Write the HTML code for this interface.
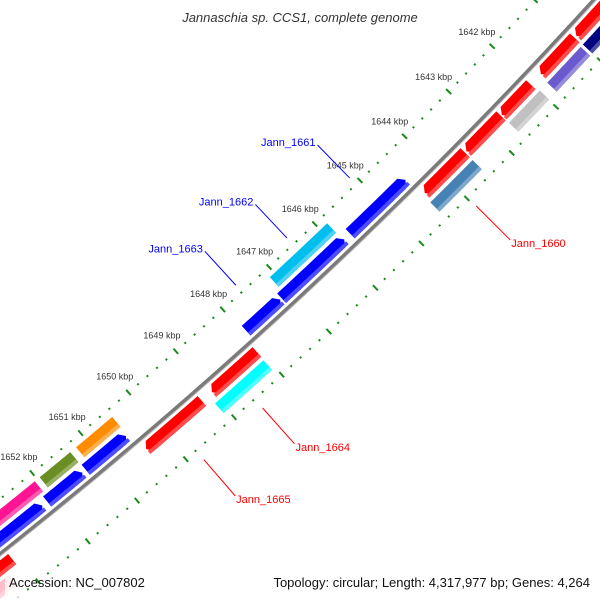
<!DOCTYPE html>
<html><head><meta charset="utf-8"><style>
html,body{margin:0;padding:0;background:#fff;width:600px;height:600px;overflow:hidden;}
svg{display:block;font-family:"Liberation Sans",sans-serif;overflow:hidden;}
</style></head><body>
<svg id="map" width="600" height="600" viewBox="0 0 600 600" xmlns="http://www.w3.org/2000/svg">
<defs><clipPath id="frame"><rect x="0" y="0" width="600" height="600"/></clipPath></defs>
<g clip-path="url(#frame)">
<rect x="0" y="0" width="600" height="600" fill="#fff"/>
<g id="ticks"></g>
<g id="genes"></g>
<g id="backbone"></g>
<g id="labels"></g>
<text x="300" y="22" text-anchor="middle" font-size="13" font-style="italic" fill="#333">Jannaschia sp. CCS1, complete genome</text>
<rect x="5" y="573" width="14" height="27" fill="#fff" opacity="0.75"/>
<text x="9" y="587" font-size="13" fill="#111">Accession: NC_007802</text>
<text x="590" y="587" text-anchor="end" font-size="13" fill="#111">Topology: circular; Length: 4,317,977 bp; Genes: 4,264</text>
</g>
</svg>
<script>
// ---- data ----
const tickKbp = [1638,1639,1640,1641,1642,1643,1644,1645,1646,1647,1648,1649,1650,1651,1652,1653,1654,1655];
const tickLabels = ["1642 kbp","1643 kbp","1644 kbp","1645 kbp","1646 kbp","1647 kbp","1648 kbp","1649 kbp","1650 kbp","1651 kbp","1652 kbp"];
const tickLabelKbp = [1642,1643,1644,1645,1646,1647,1648,1649,1650,1651,1652];
const geneNames  = ["g-a","g-b","g-c","g-d","g-e","g-f","cyan-1662","orange","olive","pink",
                    "red-1665","red-2","red-3","red-4","red-5","red-6","red-7","red-8",
                    "aqua-1664","steel-1660","silver","purple","navy","lightpink"];
const geneStart  = [1644.48,1645.83,1647.22,1650.48,1651.38,1652.2,1645.85,1650.45,1651.32,1652.05,
                    1649.21,1648.05,1643.51,1642.70,1642.02,1641.01,1640.2,1653.1,
                    1648.06,1643.51,1641.99,1641.05,1640.2,1653.3];
const geneEnd    = [1645.70,1647.19,1647.95,1651.31,1652.10,1653.6,1647.10,1651.20,1651.95,1653.4,
                    1650.37,1649.00,1644.41,1643.48,1642.68,1641.79,1640.97,1654.3,
                    1649.08,1644.45,1642.69,1641.82,1641.0,1654.3];
const geneStrand = [1,1,1,1,1,1,1,1,1,1,
                    -1,-1,-1,-1,-1,-1,-1,-1,
                    -1,-1,-1,-1,-1,-1];
const geneTrack  = [1,1,1,1,1,1,2,2,2,2,
                    1,1,1,1,1,1,1,1,
                    2,2,2,2,2,2];
const geneArrow  = [1,1,1,1,1,1,0,0,0,0,
                    1,1,1,1,1,1,1,1,
                    0,0,0,0,0,0];
const geneColor  = ["#0000ff","#0000ff","#0000ff","#0000ff","#0000ff","#0000ff","#00bfef","#ff8c00","#6b8e23","#ff1493",
                    "#ff0000","#ff0000","#ff0000","#ff0000","#ff0000","#ff0000","#ff0000","#ff0000",
                    "#00ffff","#4682b4","#c0c0c0","#6a5acd","#000080","#ffc0cb"];
const labelText  = ["Jann_1661","Jann_1662","Jann_1663","Jann_1660","Jann_1664","Jann_1665"];
const labelGene  = [0,6,2,19,18,10];

// ---- geometry ----
const CX=-3074, CY=-3336, R0=4958;
const A0=49.34, DEG_PER_KBP=0.732;
const NS="http://www.w3.org/2000/svg";
function ang(k){return (A0+(k-1650)*DEG_PER_KBP)*Math.PI/180;}
function pt(k,r){const a=ang(k);return [CX+r*Math.cos(a),CY+r*Math.sin(a)];}
function mk(tag,attrs,parent){const e=document.createElementNS(NS,tag);for(const k in attrs)e.setAttribute(k,attrs[k]);parent.appendChild(e);return e;}
function arcPath(k1,k2,r){const N=60;const p=[];for(let i=0;i<=N;i++){p.push(pt(k1+(k2-k1)*i/N,r));}
  return 'M'+p.map(q=>q[0].toFixed(2)+','+q[1].toFixed(2)).join('L');}

// backbone
const bb=document.getElementById('backbone');
const c1=mk('path',{d:arcPath(1637,1656,R0),fill:'none',stroke:'#7a7a7a','stroke-width':4},bb);


const c2=mk('path',{d:arcPath(1637,1656,R0+1.8),fill:'none',stroke:'#b8b8b8','stroke-width':1},bb);



// ticks
const tg=document.getElementById('ticks');
const tickRadii=[R0-43,R0+45];
tickRadii.forEach(function(tr){
  tickKbp.forEach(function(k){
    for(let s=0;s<5;s++){
      const kk=k+s*0.2;
      if(s===0){
        const p1=pt(kk,tr-3.5),p2=pt(kk,tr+3.5);
        const l=mk('line',{x1:p1[0],y1:p1[1],x2:p2[0],y2:p2[1],stroke:'#1a8a1a','stroke-width':2},tg);
        
        
      } else {
        const p1=pt(kk,tr-1),p2=pt(kk,tr+1);
        const l=mk('line',{x1:p1[0],y1:p1[1],x2:p2[0],y2:p2[1],stroke:'#1a8a1a','stroke-width':2},tg);
        
        
      }
    }
  });
});
tickLabelKbp.forEach(function(k,i){
  const p=pt(k,R0-64);
  const t=mk('text',{x:p[0],y:p[1]+3,'text-anchor':'middle','font-size':'9',fill:'#333'},tg);
  t.textContent=tickLabels[i];
  
  
});

// genes
const gg=document.getElementById('genes');
function bandPath(k1,k2,rIn,rOut,strand,arrow){
  const head=arrow?5/R0*180/Math.PI/DEG_PER_KBP:0;
  const pts=[];const N=16;
  let a=k1,b=k2;
  if(arrow){ if(strand>0) a=Math.min(k1+head,k2); else b=Math.max(k2-head,k1); }
  for(let i=0;i<=N;i++){pts.push(pt(a+(b-a)*i/N,rIn));}
  if(arrow&&strand<0) pts.push(pt(k2,(rIn+rOut)/2));
  for(let i=N;i>=0;i--){pts.push(pt(a+(b-a)*i/N,rOut));}
  if(arrow&&strand>0) pts.push(pt(k1,(rIn+rOut)/2));
  return 'M'+pts.map(p=>p[0].toFixed(2)+','+p[1].toFixed(2)).join('L')+'Z';
}
function lighten(hex,f){const n=parseInt(hex.slice(1),16);let r=n>>16,g=(n>>8)&255,b=n&255;
  r=Math.round(r+(255-r)*f);g=Math.round(g+(255-g)*f);b=Math.round(b+(255-b)*f);return 'rgb('+r+','+g+','+b+')';}
geneStart.forEach(function(s,i){
  const st=geneStrand[i],tr=geneTrack[i];
  let rIn,rOut;
  if(st>0){ if(tr===1){rIn=R0-18;rOut=R0-5;} else {rIn=R0-35;rOut=R0-22;} }
  else { if(tr===1){rIn=R0+5;rOut=R0+18;} else {rIn=R0+22;rOut=R0+35;} }
  const g=mk('g',{},gg);
  
  
  mk('path',{d:bandPath(s,geneEnd[i],rIn,rOut,st,geneArrow[i]),fill:geneColor[i]},g);
  const rm=rOut-(rOut-rIn)*0.3;
  mk('path',{d:bandPath(s,geneEnd[i],rm,rOut,st,0),fill:lighten(geneColor[i],0.3)},g);
});

// labels
const lg=document.getElementById('labels');
labelText.forEach(function(txt,i){
  const gi=labelGene[i];
  const mid=(geneStart[gi]+geneEnd[gi])/2;
  const fwd=geneStrand[gi]>0;
  const col=fwd?'#0000ff':'#ff0000';
  const p1=fwd?pt(mid,R0-52):pt(mid,R0+57);
  const p2=fwd?pt(mid,R0-98):pt(mid,R0+105);
  const l=mk('line',{x1:p1[0],y1:p1[1],x2:p2[0],y2:p2[1],stroke:col,'stroke-width':1},lg);
  
  
  const t=mk('text',fwd?{x:p2[0]-2,y:p2[1]+1,'text-anchor':'end'}:{x:p2[0]+1,y:p2[1]+7,'text-anchor':'start'},lg);
  t.setAttribute('font-size','11');t.setAttribute('fill',col);
  t.textContent=txt;
  
  
});
</script>
</body></html>
